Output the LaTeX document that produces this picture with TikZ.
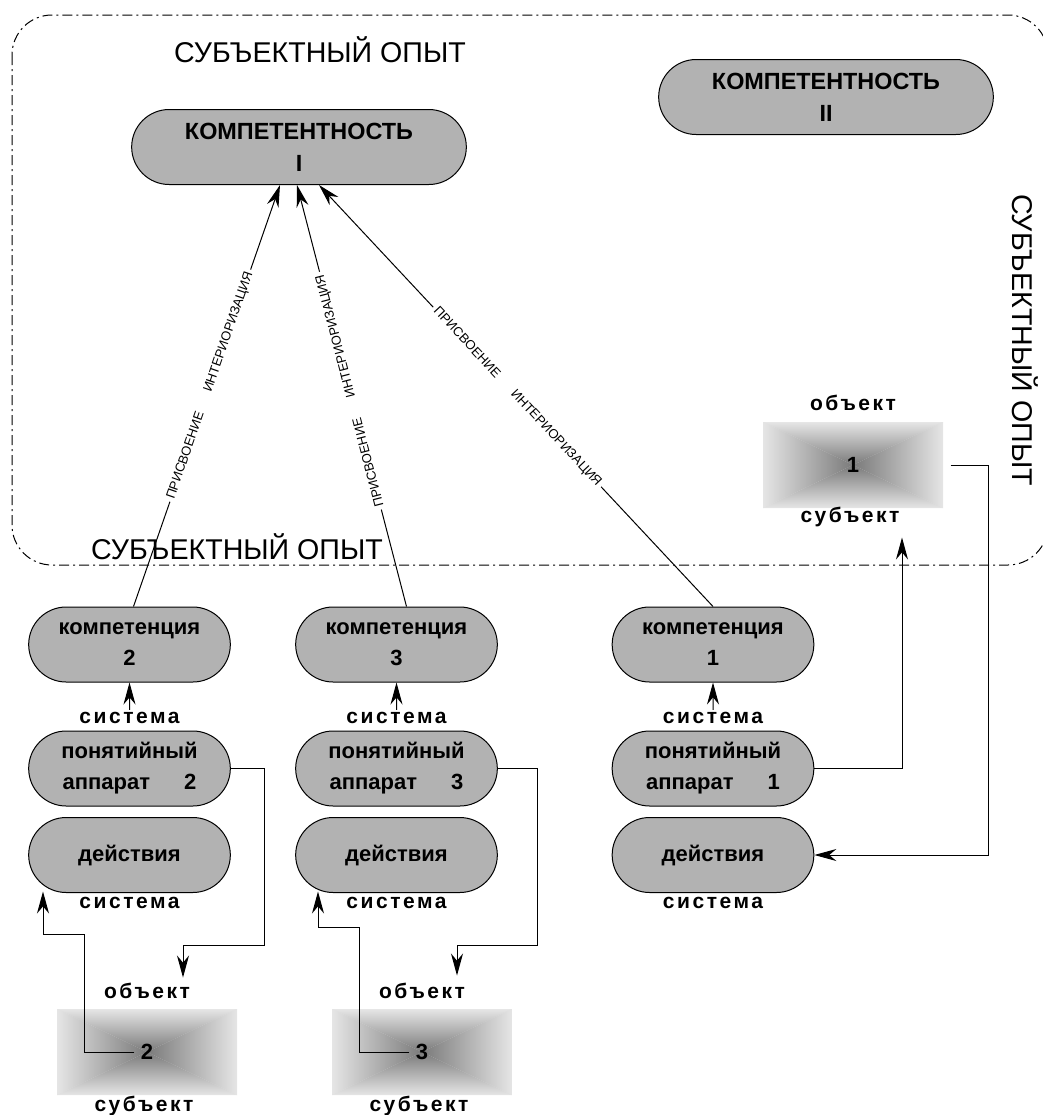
\documentclass[tikz,border=0pt]{standalone}
\usepackage{fontspec}
\setmainfont{Liberation Sans}
\newfontfamily\spacedfont[LetterSpace=12]{Liberation Sans}
\usetikzlibrary{shapes.misc,arrows.meta,calc}

\colorlet{pillgray}{black!30}
\colorlet{objdark}{black!52}
\colorlet{objlight}{black!10}

\tikzset{
  pill/.style={rounded rectangle, draw, fill=pillgray, line width=0.5pt,
    minimum height=37.5pt, align=center, font=\fontsize{11}{15.5}\selectfont\bfseries},
  bigpill/.style={pill, minimum width=174pt, font=\fontsize{11.7}{16}\selectfont\bfseries},
  smallpill/.style={pill, minimum width=107.5pt},
  objbox/.style={minimum width=90pt, minimum height=43pt, inner sep=0pt, fill=objlight,
    path picture={
      \begin{scope}
        \clip (path picture bounding box.north west) -- (path picture bounding box.north east)
          -- (path picture bounding box.center) -- cycle;
        \shade[top color=objlight, bottom color=objdark]
          (path picture bounding box.north west) rectangle (path picture bounding box.east);
      \end{scope}
      \begin{scope}
        \clip (path picture bounding box.south west) -- (path picture bounding box.south east)
          -- (path picture bounding box.center) -- cycle;
        \shade[top color=objdark, bottom color=objlight]
          (path picture bounding box.west) rectangle (path picture bounding box.south east);
      \end{scope}
      \begin{scope}
        \clip (path picture bounding box.north west) -- (path picture bounding box.south west)
          -- (path picture bounding box.center) -- cycle;
        \shade[left color=objlight, right color=objdark]
          (path picture bounding box.north west) rectangle (path picture bounding box.south);
      \end{scope}
      \begin{scope}
        \clip (path picture bounding box.north east) -- (path picture bounding box.south east)
          -- (path picture bounding box.center) -- cycle;
        \shade[left color=objdark, right color=objlight]
          (path picture bounding box.north) rectangle (path picture bounding box.south east);
      \end{scope}
    }},
  num/.style={inner sep=3pt, font=\fontsize{11}{13}\selectfont\bfseries},
  sys/.style={inner sep=1pt, font=\spacedfont\fontsize{10.5}{12}\selectfont\bfseries},
  opyt/.style={font=\fontsize{14.3}{17}\selectfont},
  lbl/.style={fill=white, inner sep=1.5pt, font=\fontsize{6.5}{8}\selectfont},
  arr/.style={-{Stealth[length=11pt,width=6pt]}, line width=0.5pt},
  frame/.style={line width=0.5pt, rounded corners=20pt,
    dash pattern=on 5pt off 2pt on 1pt off 2pt}
}

\begin{document}
\begin{tikzpicture}[x=0.5pt, y=-0.5pt, line width=0.5pt]
  \useasboundingbox (0,0) rectangle (1043,1115);
  \clip (0,0) rectangle (1043,1115);

  % Experience frame
  \draw[frame] (12,15) rectangle (1048,565);
  \node[opyt] (optop) at (320,50) {СУБЪЕКТНЫЙ ОПЫТ};
  \node[opyt] (opbot) at (237,547) {СУБЪЕКТНЫЙ ОПЫТ};
  \node[opyt, rotate=-90] (opright) at (1025,340) {СУБЪЕКТНЫЙ ОПЫТ};

  % Competences
  \node[bigpill] (kI) at (299,147) {КОМПЕТЕНТНОСТЬ\\I};
  \node[bigpill] (kII) at (826,97) {КОМПЕТЕНТНОСТЬ\\II};

  % Columns
  \foreach \n/\x in {2/129.5, 3/396.5, 1/713} {
    \node[smallpill] (k\n) at (\x,644.5) {компетенция\\\n};
    \node[smallpill] (pa\n) at (\x,768.5) {понятийный\\аппарат\hspace{17pt}\n};
    \node[smallpill] (act\n) at (\x,855) {действия};
    \node[sys] (sa\n) at (\x,718) {система};
    \node[sys] (sb\n) at (\x,903) {система};
    \draw[arr] (sa\n) -- (k\n);
  }

  % Objects
  \node[objbox] (obj1) at (853,465) {};
  \node[num] (n1) at (obj1) {1};
  \node[sys] (ob1) at (853,403) {объект};
  \node[sys] (su1) at (850,517) {субъект};

  \node[objbox] (obj2) at (147,1052) {};
  \node[num] (n2) at (obj2) {2};
  \node[sys] (ob2) at (147,991) {объект};
  \node[sys] (su2) at (144,1106) {субъект};

  \node[objbox] (obj3) at (422,1052) {};
  \node[num] (n3) at (obj3) {3};
  \node[sys] (ob3) at (422,991) {объект};
  \node[sys] (su3) at (419,1106) {субъект};

  % Appropriation and interiorisation
  \draw[arr] ($(k2.north)+(4,0)$) -- ($(kI.south)+(-19,0)$)
    node[lbl, sloped, pos=0.524] {ПРИСВОЕНИЕ\hspace{11pt}ИНТЕРИОРИЗАЦИЯ};
  \draw[arr] ($(k3.north)+(10,0)$) -- ($(kI.south)+(-2,0)$)
    node[lbl, sloped, allow upside down, pos=0.512] {ПРИСВОЕНИЕ\hspace{11pt}ИНТЕРИОРИЗАЦИЯ};
  \draw[arr] (k1.north) -- ($(kI.south)+(20,0)$)
    node[lbl, sloped, pos=0.497] {ПРИСВОЕНИЕ\hspace{11pt}ИНТЕРИОРИЗАЦИЯ};

  % Links between apparatus, objects and actions
  \draw[arr] (pa1.east) -| ($(obj1.south)+(49,29)$);
  \draw[arr, shorten <=3.5pt] (obj1.east) -- ++(45,0) |- (act1.east);

  \draw[arr] (pa2.east) -- ++(34,0) |- ($(obj2.north)+(36,-63)$) -- ($(obj2.north)+(36,-31)$);
  \draw[arr] (n2.west) -- ++(-50,0) |- ($(act2.south)+(-86.5,41.5)$) -- ($(act2.south)+(-86.5,-1.5)$);

  \draw[arr] (pa3.east) -- ++(40,0) |- ($(obj3.north)+(35,-63)$) -- ($(obj3.north)+(35,-33)$);
  \draw[arr] (n3.west) -- ++(-50,0) |- ($(act3.south)+(-78.5,34.5)$) -- ($(act3.south)+(-78.5,-1.5)$);
\end{tikzpicture}
\end{document}
